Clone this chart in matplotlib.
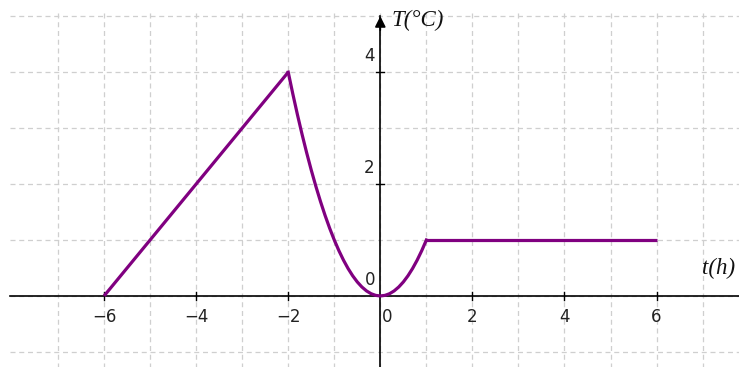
import matplotlib.pyplot as plt
import numpy as np

# Data: T(t) piecewise
t_line = [-6, -2]
T_line = [0, 4]
t_curve = [-2.0, -1.9, -1.8, -1.7, -1.6, -1.5, -1.4, -1.3, -1.2, -1.1,
           -1.0, -0.9, -0.8, -0.7, -0.6, -0.5, -0.4, -0.3, -0.2, -0.1,
           0.0, 0.1, 0.2, 0.3, 0.4, 0.5, 0.6, 0.7, 0.8, 0.9, 1.0]
T_curve = [4.0, 3.61, 3.24, 2.89, 2.56, 2.25, 1.96, 1.69, 1.44, 1.21,
           1.0, 0.81, 0.64, 0.49, 0.36, 0.25, 0.16, 0.09, 0.04, 0.01,
           0.0, 0.01, 0.04, 0.09, 0.16, 0.25, 0.36, 0.49, 0.64, 0.81, 1.0]
t_flat = [1, 6]
T_flat = [1, 1]

x_ticks = [-6, -4, -2, 2, 4, 6]
y_ticks = [2, 4]

fig = plt.figure(figsize=(7.39, 3.67), dpi=100)
ax = fig.add_axes([0, 0, 1, 1])
ax.set_xlim(-8.26, 7.79)
ax.set_ylim(-1.27, 5.29)
ax.axis("off")

# grid
grid_kw = dict(color="#cfcfcf", lw=0.9, ls=(0, (4, 3)), zorder=0)
for gx in range(-7, 8):
    ax.plot([gx, gx], [-1.3, 5.05], **grid_kw)
for gy in range(-1, 6):
    ax.plot([-8.05, 7.8], [gy, gy], **grid_kw)

# axes
ax.plot([-8.05, 7.8], [0, 0], color="black", lw=1.2, zorder=2)
ax.plot([0, 0], [-1.3, 5.0], color="black", lw=1.2, zorder=2)
ax.annotate("", xy=(0, 5.05), xytext=(0, 4.7),
            arrowprops=dict(arrowstyle="-|>", color="black", lw=1.2,
                            mutation_scale=16), zorder=3)
for x in x_ticks:
    ax.plot([x, x], [-0.07, 0.07], color="black", lw=1, zorder=2)
    ax.text(x, -0.22, "\u2212%d" % -x if x < 0 else str(x),
            ha="center", va="top", fontsize=12, color="#222222")
for y in y_ticks:
    ax.plot([-0.09, 0.09], [y, y], color="black", lw=1, zorder=2)
    ax.text(-0.12, y + 0.12, str(y), ha="right", va="bottom",
            fontsize=12, color="#222222")
ax.text(-0.1, 0.12, "0", ha="right", va="bottom", fontsize=12, color="#222222")
ax.text(0.15, -0.22, "0", ha="center", va="top", fontsize=12, color="#222222")

ax.text(0.24, 4.93, "T(°C)", fontsize=16.5, style="italic",
        family="Liberation Serif", ha="left", va="center", color="#111111")
ax.text(6.98, 0.5, "t(h)", fontsize=16.5, style="italic",
        family="Liberation Serif", ha="left", va="center", color="#111111")

# function
purple = "#800080"
ax.plot(t_line, T_line, color=purple, lw=2.3, zorder=4, solid_capstyle="butt")
ax.plot(t_curve, T_curve, color=purple, lw=2.3, zorder=4)
ax.plot(t_flat, T_flat, color=purple, lw=2.3, zorder=4, solid_capstyle="butt")

fig.savefig("out.png", dpi=100)
